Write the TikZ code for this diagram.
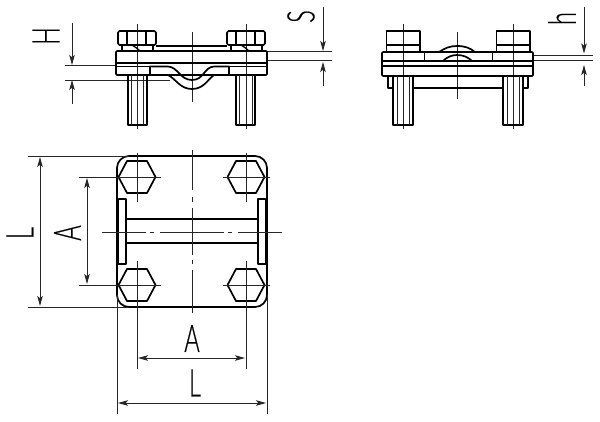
\documentclass[tikz,border=0pt]{standalone}
\usepackage{fontspec}
\setmainfont[UprightFont=* Light,UprightFeatures={FakeBold=0.5}]{Lato}
\usetikzlibrary{arrows.meta}
\tikzset{
  thick line/.style={line width=1.7pt,line join=round,line cap=round},
  mid line/.style={line width=1.3pt,black},
  thin line/.style={line width=0.85pt,black!85},
  dim/.style={line width=0.85pt,black!85,{Stealth[length=10pt,width=5.5pt,inset=2.2pt]}-{Stealth[length=10pt,width=5.5pt,inset=2.2pt]}},
  leader/.style={line width=0.85pt,black!85,-{Stealth[length=10pt,width=5.5pt,inset=2.2pt]}},
  dimlabel/.style={inner sep=0pt,font=\fontsize{38}{38}\selectfont},
}
\newcommand{\narrow}[1]{\scalebox{0.62}[1]{#1}}
\begin{document}
\begin{tikzpicture}[x=1pt,y=-1pt]
\path[use as bounding box,fill=white] (0,0) rectangle (600,421);

% ---------- left side view ----------
\draw[thin line] (137,24)--(137,129) (246,24)--(246,129) (192,32)--(192,102);
\draw[thin line] (65,65.7)--(116,65.7) (65,80)--(170,80);
\draw[thin line] (267,51.7)--(332,51.7) (267,60.7)--(332,60.7);
\foreach \c in {137,246}{
  \draw[thick line,rounded corners=1.5pt] (\c-19,45)--(\c-19,31)--(\c+19,31)--(\c+19,45)--cycle;
  \draw[mid line] (\c-10,31)--(\c-10,45) (\c+9,31)--(\c+9,45);
  \draw[thick line] (\c-15,45)--(\c-15,51) (\c+16,45)--(\c+16,51);
  \draw[mid line] (\c-5,45) .. controls (\c-2,46) and (\c+0,49) .. (\c+3,51);
}
\draw[mid line] (156,46)--(227,46);
\draw[thick line,rounded corners=1pt] (116,51) rectangle (267,75);
\draw[thick line] (116,63)--(267,63);
\draw[mid line] (116,66.5)--(150,66.5) (229,66.5)--(267,66.5);
\draw[thick line] (150,66.5)--(150,75) (229,66.5)--(229,75);
\draw[thick line] (150,66.5)--(168,66.5) .. controls (178,67) and (180,80) .. (192,80)
   .. controls (204,80) and (204,67) .. (214,66.5)--(229,66.5);
\draw[thick line] (168,75) .. controls (176,79) and (180,89) .. (192,89)
   .. controls (204,89) and (208,79) .. (214,75);
\draw[thick line] (128,75)--(128,125)--(147,125)--(147,75);
\draw[thick line] (236,75)--(236,125)--(255,125)--(255,75);
\draw[thin line] (131,75)--(131,125) (143.5,75)--(143.5,125) (239,75)--(239,125) (252,75)--(252,125);
\draw[leader] (72,23)--(72,65);
\draw[leader] (72,104)--(72,80);
\draw[leader] (323,7)--(323,51);
\draw[leader] (323,86)--(323,62);
\node[dimlabel,rotate=90] (labelH) at (46,36) {\narrow{H}};
\node[dimlabel,rotate=90] (labelS) at (301,16.5) {\narrow{S}};

% ---------- right side view ----------
\draw[thin line] (403,24)--(403,129) (513,24)--(513,129) (457,32)--(457,99);
\draw[thin line] (533,55.7)--(593,55.7) (533,60.7)--(593,60.7);
\foreach \c in {403,513}{
  \draw[thick line] (\c-16.5,52)--(\c-16.5,31)--(\c+17,31)--(\c+17,52);
  \draw[mid line] (\c-16.5,45)--(\c+17,45);
}
\draw[thick line,rounded corners=1pt] (382,52) rectangle (533,76);
\draw[thick line] (424.5,61)--(424.5,52) (492.5,61)--(492.5,52);
\draw[thick line] (424.5,52)--(439,52) .. controls (445,48) and (450,46) .. (457,46)
  .. controls (465,46) and (470,48) .. (475,52)--(492.5,52);
\draw[mid line] (382,61)--(533,61);
\draw[thick line] (443,61) .. controls (447,57) and (452,55) .. (457,55)
  .. controls (463,55) and (468,57) .. (472,61);
\draw[thick line] (382,66)--(533,66);
\draw[thick line] (388,76)--(388,88)--(393,88);
\draw[thick line] (528,76)--(528,88)--(523,88);
\draw[thick line] (413,88)--(503,88);
\draw[thick line] (393,76)--(393,125)--(413,125)--(413,76);
\draw[thick line] (503,76)--(503,125)--(523,125)--(523,76);
\draw[thin line] (397,76)--(397,125) (409,76)--(409,125) (507,76)--(507,125) (519,76)--(519,125);
\draw[leader] (584,7)--(584,53.5);
\draw[leader] (584,86)--(584,65);
\node[dimlabel,rotate=90] (labelh) at (562,18.5) {\narrow{h}};

% ---------- plan view ----------
\draw[thick line,rounded corners=12pt] (117,156) rectangle (267,307);
\foreach \c/\r in {137/177,246/177,137/285,246/285}{
  \draw[thick line] (\c-18.5,\r)--(\c-10,\r-16)--(\c+10,\r-16)--(\c+18.5,\r)--(\c+10,\r+16)--(\c-10,\r+16)--cycle;
  \draw[thin line] (\c-18,\r)--(\c+24,\r);
}
\draw[thin line] (223,177)--(228,177) (223,285)--(228,285);
\draw[thin line] (137,153)--(137,202) (246,153)--(246,202);
\draw[thin line] (137,261)--(137,369) (246,261)--(246,369);
\draw[thick line] (118,199) rectangle (126,264);
\draw[thick line] (258,199) rectangle (266,264);
\draw[thick line] (126,219)--(258,219) (126,243)--(258,243);
\draw[thin line] (102,232)--(146,232) (150,232)--(154,232) (160,232)--(224,232) (228,232)--(232,232) (238,232)--(282,232);
\draw[thin line] (192,150)--(192,190) (192,197)--(192,202) (192,208)--(192,255) (192,260)--(192,264) (192,270)--(192,313);
% extension lines
\draw[thin line] (28,156)--(129,156) (28,307)--(129,307);
\draw[thin line] (79,177)--(119,177) (79,285)--(119,285);
\draw[thin line] (117,295)--(117,414) (267,295)--(267,414);
\draw[dim] (40,157)--(40,306);
\draw[dim] (87,178)--(87,284);
\draw[dim] (138,358)--(245,358);
\draw[dim] (118,403)--(266,403);
\node[dimlabel,rotate=90] (labelLv) at (20,233) {\narrow{L}};
\node[dimlabel,rotate=90] (labelAv) at (67.5,233) {\narrow{A}};
\node[dimlabel] (labelAh) at (192,338.5) {\narrow{A}};
\node[dimlabel] (labelLh) at (195,383) {\narrow{L}};
\end{tikzpicture}
\end{document}
